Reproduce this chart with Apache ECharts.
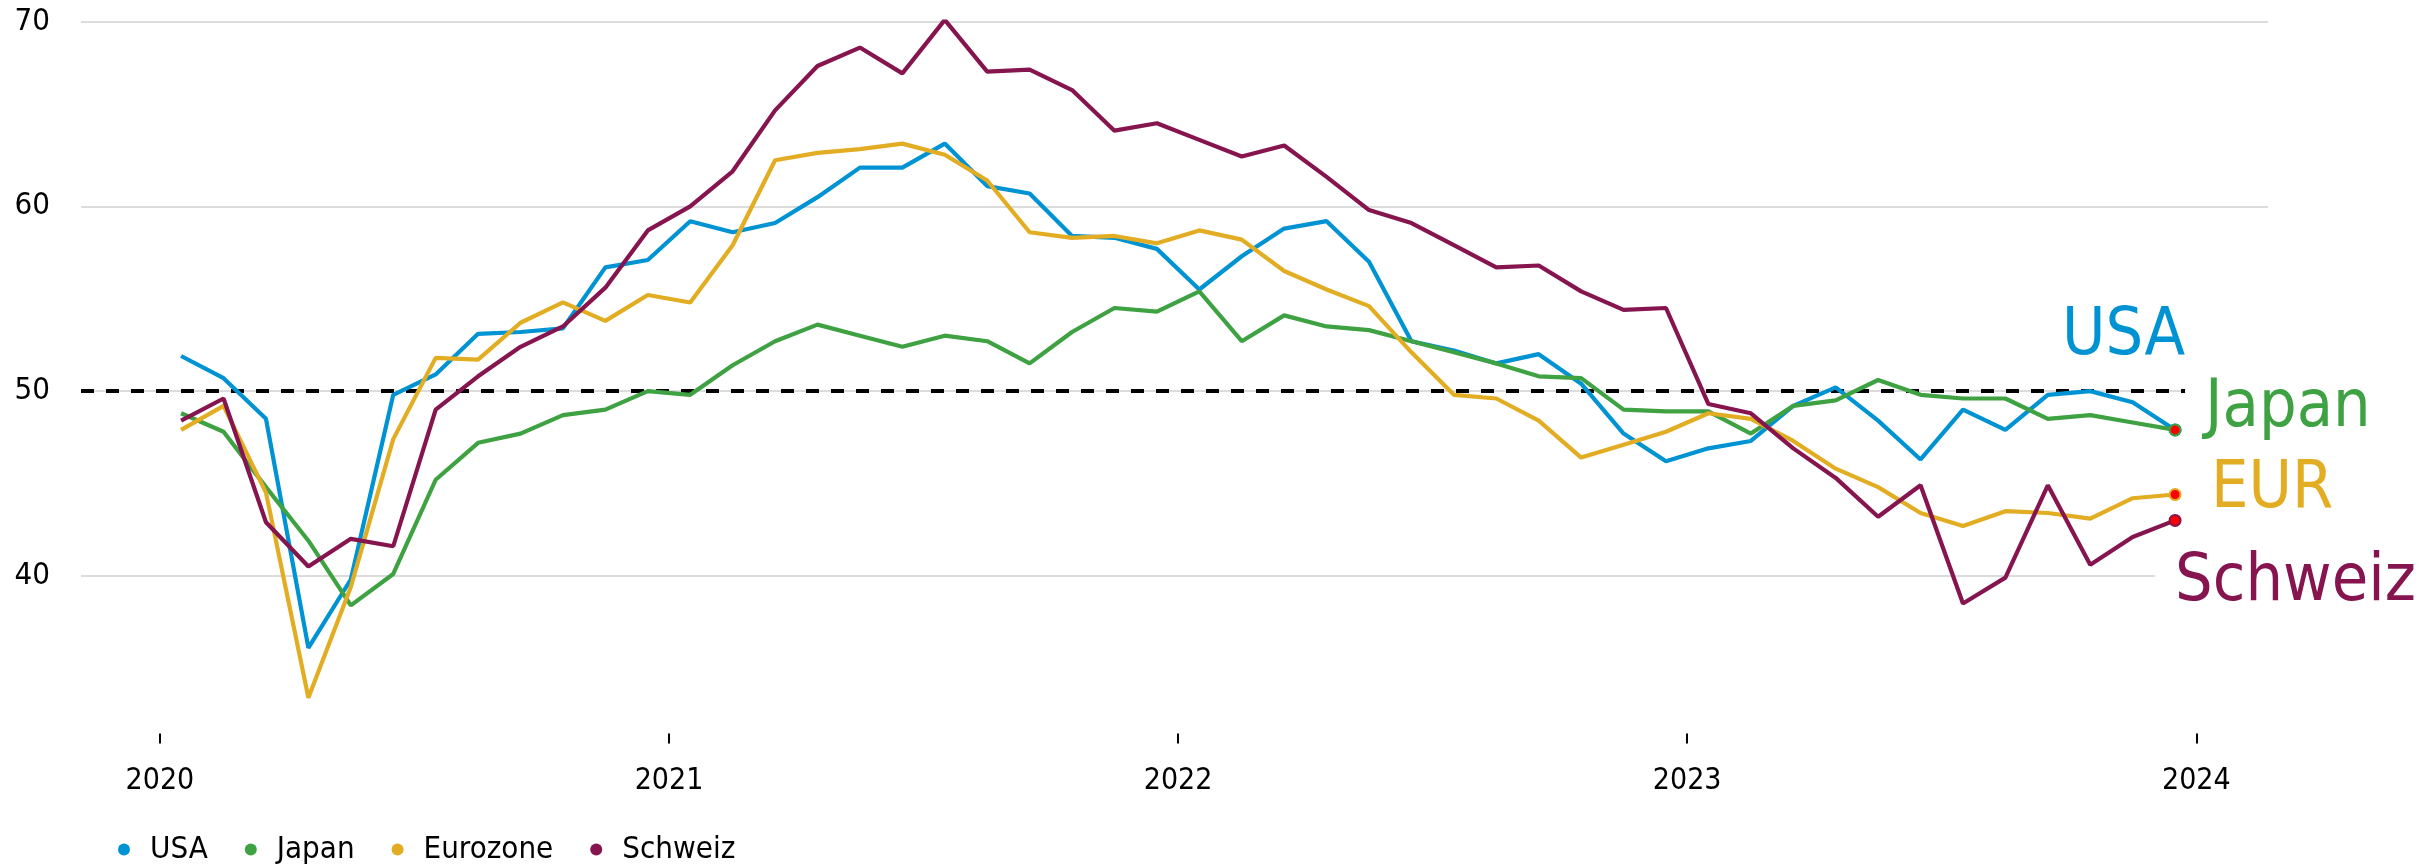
<!DOCTYPE html>
<html><head><meta charset="utf-8">
<script src="https://cdn.jsdelivr.net/npm/echarts@6/dist/echarts.min.js"></script>
<style>html,body{margin:0;padding:0;background:#fff}#c{width:2433px;height:865px}</style>
</head><body><div id="c"></div>
<script>
// Monthly values Jan 2020 .. Dec 2023
const yearTicks = [0, 12, 24, 36, 48];
const yearLabels = ['2020', '2021', '2022', '2023', '2024'];
const seriesNames = ['USA', 'Japan', 'Eurozone', 'Schweiz'];
const endLabelTexts = ['USA', 'Japan', 'EUR', 'Schweiz'];
const usa = [51.9, 50.7, 48.5, 36.1, 39.8, 49.8, 50.9, 53.1, 53.2, 53.4, 56.7, 57.1,
             59.2, 58.6, 59.1, 60.5, 62.1, 62.1, 63.4, 61.1, 60.7, 58.4, 58.3, 57.7,
             55.5, 57.3, 58.8, 59.2, 57.0, 52.7, 52.2, 51.5, 52.0, 50.4, 47.7, 46.2,
             46.9, 47.3, 49.2, 50.2, 48.4, 46.3, 49.0, 47.9, 49.8, 50.0, 49.4, 47.9];
const japan = [48.8, 47.8, 44.8, 41.9, 38.4, 40.1, 45.2, 47.2, 47.7, 48.7, 49.0, 50.0,
               49.8, 51.4, 52.7, 53.6, 53.0, 52.4, 53.0, 52.7, 51.5, 53.2, 54.5, 54.3,
               55.4, 52.7, 54.1, 53.5, 53.3, 52.7, 52.1, 51.5, 50.8, 50.7, 49.0, 48.9,
               48.9, 47.7, 49.2, 49.5, 50.6, 49.8, 49.6, 49.6, 48.5, 48.7, 48.3, 47.9];
const eurozone = [47.9, 49.2, 44.5, 33.4, 39.4, 47.4, 51.8, 51.7, 53.7, 54.8, 53.8, 55.2,
                  54.8, 57.9, 62.5, 62.9, 63.1, 63.4, 62.8, 61.4, 58.6, 58.3, 58.4, 58.0,
                  58.7, 58.2, 56.5, 55.5, 54.6, 52.1, 49.8, 49.6, 48.4, 46.4, 47.1, 47.8,
                  48.8, 48.5, 47.3, 45.8, 44.8, 43.4, 42.7, 43.5, 43.4, 43.1, 44.2, 44.4];
const schweiz = [48.4, 49.6, 42.9, 40.5, 42.0, 41.6, 49.0, 50.8, 52.4, 53.5, 55.6, 58.7,
                 60.0, 61.9, 65.2, 67.6, 68.6, 67.2, 70.1, 67.3, 67.4, 66.3, 64.1, 64.5,
                 63.6, 62.7, 63.3, 61.6, 59.8, 59.1, 57.9, 56.7, 56.8, 55.4, 54.4, 54.5,
                 49.3, 48.8, 46.9, 45.3, 43.2, 44.9, 38.5, 39.9, 44.9, 40.6, 42.1, 43.0];
const threshold = 50;

const FONT = "'DejaVu Sans Condensed', 'DejaVu Sans', sans-serif";
const colors = ['#0093d3', '#3ea142', '#e2ad22', '#85144f'];
const labelOffsets = [[-113, -93], [30, -21], [36, -5], [0, 62]];
const allValues = [usa, japan, eurozone, schweiz];

function build(vals, i) {
  return vals.map((v, k) => {
    const x = k + 0.5;
    if (k === vals.length - 1) {
      return {
        value: [x, v],
        symbolSize: 11,
        itemStyle: { color: '#ff0000', borderColor: colors[i], borderWidth: 2 },
        label: {
          show: true, formatter: endLabelTexts[i], position: 'inside',
          align: 'left', verticalAlign: 'middle',
          offset: [labelOffsets[i][0] - 20, labelOffsets[i][1]],
          color: colors[i], fontSize: 66, fontFamily: FONT,
          backgroundColor: '#ffffff', padding: [4, 0, 4, 20]
        }
      };
    }
    return { value: [x, v] };
  });
}

const series = allValues.map((vals, i) => {
  const s = {
    name: seriesNames[i],
    type: 'line',
    data: build(vals, i),
    symbol: 'circle',
    symbolSize: 0,
    showSymbol: true,
    showAllSymbol: true,
    lineStyle: { color: colors[i], width: 4.2 },
    itemStyle: { color: colors[i] },
    emphasis: { disabled: true },
    animation: false,
    z: 3 + i
  };
  if (i === 0) {
    s.markLine = {
      silent: true, symbol: 'none', animation: false, z: 2,
      label: { show: false },
      lineStyle: { color: '#000', type: [13, 12], width: 4 },
      data: [{ yAxis: threshold }]
    };
  }
  return s;
});

const chart = echarts.init(document.getElementById('c'));
chart.setOption({
  animation: false,
  backgroundColor: '#ffffff',
  textStyle: { fontFamily: FONT },
  color: colors,
  grid: { left: 81, right: 165, top: 21.7, bottom: 104.5 },
  xAxis: {
    type: 'value', min: -1.86, max: 49.69, offset: -27,
    axisLine: { show: false },
    splitLine: { show: false },
    axisTick: { show: true, customValues: yearTicks, length: 10, lineStyle: { color: '#000', width: 2 } },
    axisLabel: {
      customValues: yearTicks, margin: 33, fontSize: 30, color: '#000', fontFamily: FONT,
      formatter: (v) => yearLabels[Math.round(v / 12)]
    }
  },
  yAxis: {
    type: 'value', min: 30, max: 70, interval: 10,
    axisLine: { show: false }, axisTick: { show: false },
    axisLabel: { fontSize: 31, color: '#000', margin: 31, showMinLabel: false, fontFamily: FONT, padding: [3, 0, 0, 0] },
    splitLine: { show: true, showMinLine: false, lineStyle: { color: '#dcdcdc', width: 2 } }
  },
  legend: {
    data: seriesNames,
    left: 113, top: 829,
    icon: 'circle', itemWidth: 42, itemHeight: 12, itemGap: 37,
    textStyle: { fontSize: 31, color: '#000', fontFamily: FONT }
  },
  series: series
});
</script>
</body></html>
